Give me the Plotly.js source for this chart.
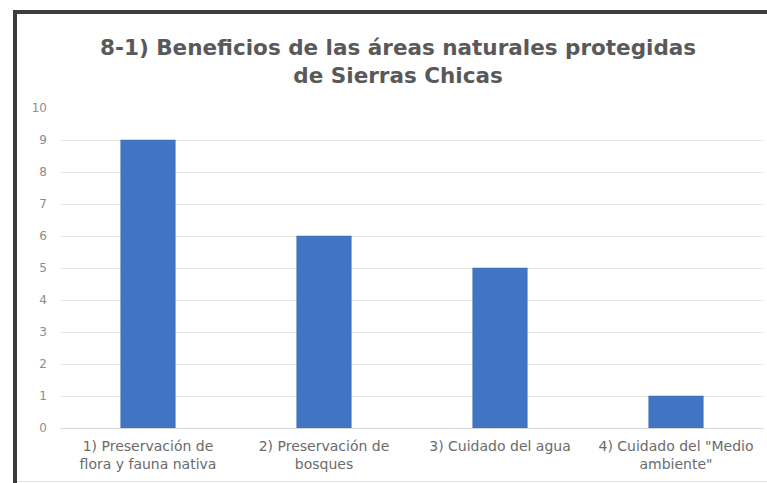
<!DOCTYPE html>
<html>
<head>
<meta charset="utf-8">
<script src="https://cdn.plot.ly/plotly-3.0.1.min.js"></script>
<style>
html,body{margin:0;padding:0;background:#fff;}
#wrap{position:relative;width:767px;height:483px;overflow:hidden;}
#chart{position:absolute;left:0;top:0;width:767px;height:483px;}
#frame{position:absolute;left:13px;top:10px;width:760px;height:480px;border-left:4px solid #3c3c3c;border-top:4px solid #3c3c3c;pointer-events:none;}
#bottomline{position:absolute;left:17px;top:481px;width:750px;height:1px;background:#e2e2e2;pointer-events:none;}
</style>
</head>
<body>
<div id="wrap">
<div id="chart"></div>
<div id="frame"></div>
<div id="bottomline"></div>
</div>
<script>
const categories = [
  "1) Preservación de<br>flora y fauna nativa",
  "2) Preservación de<br>bosques",
  "3) Cuidado del agua",
  "4) Cuidado del \"Medio<br>ambiente\""
];
const values = [9, 6, 5, 1];
const yTicks = [0,1,2,3,4,5,6,7,8,9,10];
const titleText = "8-1) Beneficios de las áreas naturales protegidas<br>de Sierras Chicas";

Plotly.newPlot('chart', [{
  type: 'bar',
  x: categories,
  y: values,
  width: 0.31,
  marker: {color: '#4174c2', line: {color: '#3b6cb8', width: 0.5}},
  hoverinfo: 'none'
}], {
  width: 767, height: 483,
  margin: {l: 60, r: 3, t: 108, b: 55},
  paper_bgcolor: '#ffffff',
  plot_bgcolor: '#ffffff',
  title: {
    text: titleText,
    x: 0.519, xanchor: 'center',
    y: 0.886, yanchor: 'middle',
    font: {family: 'DejaVu Sans, sans-serif', size: 21.5, color: '#595959', weight: 'bold'}
  },
  xaxis: {
    tickfont: {family: 'DejaVu Sans, sans-serif', size: 14, color: '#6b6b6b'},
    showline: true, linecolor: '#d9d9d9', linewidth: 1,
    ticks: '', showgrid: false, fixedrange: true,
    ticklabelstandoff: 5
  },
  yaxis: {
    range: [0, 10],
    tickvals: yTicks,
    ticktext: yTicks.map(String),
    tickfont: {family: 'DejaVu Sans, sans-serif', size: 12, color: '#8c8c8c'},
    gridcolor: '#e6e6e6', gridwidth: 1,
    zeroline: false, showline: false, ticks: '',
    ticklabelstandoff: 12,
    fixedrange: true
  },
  showlegend: false,
  bargap: 0.69
}, {displayModeBar: false, staticPlot: true});
</script>
</body>
</html>
